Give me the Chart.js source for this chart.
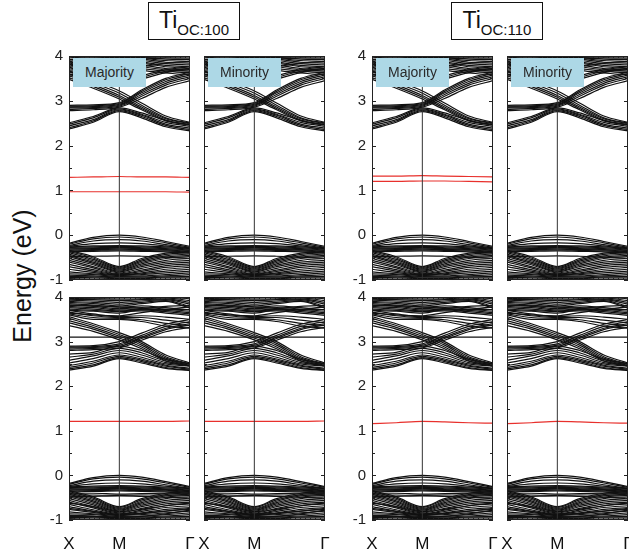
<!DOCTYPE html>
<html>
<head>
<meta charset="utf-8">
<script src="https://cdn.jsdelivr.net/npm/chart.js@4.4.1/dist/chart.umd.min.js"></script>
<style>
  body { margin: 0; background: #fff; width: 629px; height: 552px; position: relative; overflow: hidden;
         font-family: "Liberation Sans", Arial, sans-serif; }
  canvas { position: absolute; }
  .title { position: absolute; top: 2px; width: 92px; height: 38px; border: 1px solid #111; box-sizing: border-box;
           text-align: center; font-size: 23px; line-height: 34px; color: #111; background: #fff; }
  .title span { font-size: 15px; position: relative; top: 7px; }
  .spin { position: absolute; width: 73px; height: 29px; background: #add8e6; color: #2a2a2a; font-size: 14px;
          line-height: 29px; text-align: center; z-index: 2; }
  .ylab { position: absolute; left: 22px; top: 276px; font-size: 25px; color: #111; white-space: nowrap;
          transform: translate(-50%, -50%) rotate(-90deg); }
</style>
</head>
<body>
<div class="title" style="left:148px">Ti<span>OC:100</span></div>
<div class="title" style="left:451px">Ti<span>OC:110</span></div>
<div class="ylab">Energy (eV)</div>
<script>
// k path: X -> M -> Gamma (fraction of panel width)
const kPoints = [0, 0.2, 0.416, 0.6, 0.8, 1];
const symK = [0, 0.416, 1];
const symLabels = ['X', 'M', 'Γ'];
const energyRange = [-1, 4];

// valence bands (both rows), energy at each kPoint
const valenceBands = [
  [-0.18, -0.05, 0.00, -0.04, -0.14, -0.25],
  [-0.20, -0.08, -0.04, -0.08, -0.17, -0.27],
  [-0.23, -0.13, -0.10, -0.13, -0.21, -0.29],
  [-0.25, -0.19, -0.17, -0.19, -0.24, -0.30],
  [-0.26, -0.24, -0.23, -0.24, -0.26, -0.29],
  [-0.27, -0.26, -0.25, -0.26, -0.28, -0.31],
  [-0.29, -0.28, -0.27, -0.28, -0.30, -0.33],
  [-0.31, -0.30, -0.29, -0.30, -0.32, -0.34],
  [-0.33, -0.32, -0.31, -0.32, -0.33, -0.36],
  [-0.35, -0.34, -0.33, -0.34, -0.35, -0.38],
  [-0.37, -0.36, -0.35, -0.36, -0.37, -0.40],
  [-0.34, -0.48, -0.70, -0.52, -0.40, -0.36],
  [-0.36, -0.51, -0.72, -0.55, -0.43, -0.39],
  [-0.39, -0.54, -0.74, -0.58, -0.46, -0.42],
  [-0.42, -0.57, -0.76, -0.61, -0.49, -0.45],
  [-0.45, -0.60, -0.78, -0.64, -0.52, -0.48],
  [-0.48, -0.63, -0.80, -0.67, -0.56, -0.52],
  [-0.52, -0.66, -0.82, -0.70, -0.60, -0.56],
  [-0.56, -0.70, -0.84, -0.74, -0.64, -0.60],
  [-0.60, -0.73, -0.86, -0.78, -0.68, -0.64],
  [-0.65, -0.77, -0.87, -0.81, -0.72, -0.68],
  [-0.70, -0.80, -0.88, -0.84, -0.76, -0.72],
  [-0.76, -0.83, -0.89, -0.86, -0.80, -0.76],
  [-0.82, -0.86, -0.90, -0.88, -0.84, -0.80],
  [-0.86, -0.88, -0.92, -0.91, -0.88, -0.84],
  [-0.89, -0.91, -0.93, -0.93, -0.91, -0.88],
  [-0.92, -0.93, -0.95, -0.95, -0.93, -0.92],
  [-0.94, -0.95, -0.97, -0.97, -0.95, -0.95],
  [-0.97, -0.98, -0.99, -0.99, -0.98, -0.98],
  [-0.48, -0.47, -0.46, -0.47, -0.49, -0.52]
];
const valenceBottomExtra = [
  [-0.40, -0.40, -0.42, -0.41, -0.40, -0.40],
  [-0.44, -0.44, -0.45, -0.44, -0.44, -0.44],
  [-0.62, -0.70, -0.81, -0.76, -0.68, -0.62],
  [-0.74, -0.81, -0.88, -0.85, -0.80, -0.74],
  [-0.90, -0.92, -0.94, -0.92, -0.86, -0.78]
];

// conduction bands, top row
const conductionTop = [
  [2.37, 2.52, 2.76, 2.62, 2.42, 2.33],
  [2.40, 2.55, 2.78, 2.65, 2.45, 2.36],
  [2.44, 2.58, 2.80, 2.68, 2.48, 2.39],
  [2.48, 2.62, 2.82, 2.70, 2.52, 2.43],
  [2.51, 2.65, 2.84, 2.73, 2.56, 2.46],
  [2.78, 2.80, 2.86, 3.05, 3.30, 3.45],
  [2.81, 2.83, 2.88, 3.10, 3.35, 3.50],
  [2.84, 2.85, 2.90, 3.14, 3.39, 3.54],
  [2.86, 2.87, 2.92, 3.18, 3.43, 3.58],
  [2.88, 2.89, 2.94, 3.21, 3.47, 3.61],
  [2.90, 2.91, 2.96, 3.24, 3.50, 3.64],
  [3.48, 3.28, 3.04, 2.80, 2.55, 2.46],
  [3.52, 3.32, 3.08, 2.83, 2.57, 2.47],
  [3.56, 3.36, 3.12, 2.86, 2.60, 2.49],
  [3.60, 3.40, 3.17, 2.90, 2.62, 2.50],
  [3.65, 3.45, 3.22, 2.95, 2.66, 2.52],
  [3.82, 3.58, 3.32, 3.48, 3.63, 3.70],
  [3.86, 3.62, 3.36, 3.52, 3.66, 3.73],
  [3.90, 3.66, 3.42, 3.56, 3.69, 3.76],
  [3.58, 3.64, 3.72, 3.68, 3.62, 3.58],
  [3.62, 3.68, 3.76, 3.72, 3.66, 3.62],
  [3.65, 3.72, 3.80, 3.76, 3.69, 3.66],
  [3.68, 3.76, 3.84, 3.80, 3.72, 3.69],
  [3.71, 3.79, 3.87, 3.84, 3.76, 3.72],
  [3.74, 3.82, 3.90, 3.87, 3.79, 3.76],
  [3.77, 3.85, 3.93, 3.90, 3.83, 3.80],
  [3.80, 3.88, 3.95, 3.93, 3.86, 3.84],
  [3.84, 3.91, 3.97, 3.95, 3.90, 3.88],
  [3.88, 3.94, 3.99, 3.97, 3.93, 3.92],
  [3.92, 3.96, 3.92, 3.93, 3.96, 3.95],
  [3.96, 3.98, 3.96, 3.97, 3.98, 3.98],
  [3.55, 3.60, 3.68, 3.76, 3.84, 3.88]
];

// conduction bands, bottom row
const conductionBottom = [
  [2.36, 2.45, 2.62, 2.52, 2.40, 2.35],
  [2.39, 2.48, 2.64, 2.55, 2.42, 2.36],
  [2.42, 2.52, 2.67, 2.58, 2.45, 2.38],
  [2.46, 2.56, 2.70, 2.61, 2.47, 2.40],
  [2.52, 2.62, 2.75, 2.65, 2.50, 2.45],
  [2.58, 2.68, 2.80, 2.70, 2.53, 2.47],
  [2.65, 2.72, 2.85, 2.75, 2.56, 2.49],
  [2.72, 2.76, 2.90, 2.80, 2.60, 2.51],
  [2.80, 2.82, 2.86, 3.03, 3.22, 3.32],
  [2.83, 2.85, 2.89, 3.07, 3.27, 3.37],
  [2.86, 2.87, 2.92, 3.10, 3.30, 3.40],
  [2.88, 2.89, 2.95, 3.14, 3.34, 3.45],
  [2.90, 2.91, 3.00, 3.19, 3.39, 3.50],
  [3.10, 3.10, 3.10, 3.10, 3.10, 3.10],
  [3.36, 3.23, 3.04, 2.84, 2.57, 2.45],
  [3.42, 3.28, 3.08, 2.88, 2.60, 2.47],
  [3.47, 3.32, 3.12, 2.92, 2.63, 2.49],
  [3.52, 3.36, 3.16, 2.96, 2.66, 2.50],
  [3.56, 3.40, 3.20, 3.00, 2.70, 2.52],
  [3.60, 3.50, 3.50, 3.45, 3.35, 3.30],
  [3.62, 3.54, 3.52, 3.49, 3.41, 3.36],
  [3.66, 3.58, 3.54, 3.54, 3.48, 3.42],
  [3.70, 3.62, 3.56, 3.58, 3.55, 3.50],
  [3.73, 3.70, 3.67, 3.69, 3.64, 3.59],
  [3.76, 3.73, 3.69, 3.71, 3.67, 3.62],
  [3.79, 3.76, 3.71, 3.73, 3.70, 3.65],
  [3.82, 3.79, 3.74, 3.76, 3.73, 3.68],
  [3.85, 3.82, 3.77, 3.80, 3.76, 3.71],
  [3.88, 3.85, 3.80, 3.85, 3.90, 3.75],
  [3.90, 3.88, 3.84, 3.88, 3.92, 3.79],
  [3.93, 3.91, 3.88, 3.91, 3.94, 3.84],
  [3.95, 3.94, 3.92, 3.94, 3.96, 3.88],
  [3.97, 3.96, 3.95, 3.96, 3.98, 3.92],
  [3.99, 3.98, 3.98, 3.99, 3.99, 3.96],
  [3.64, 3.60, 3.58, 3.65, 3.72, 3.78],
  [3.70, 3.68, 3.64, 3.73, 3.79, 3.81],
  [3.82, 3.80, 3.78, 3.74, 3.72, 3.72]
];

// defect (red) states
const defect100Maj = [
  [1.29, 1.30, 1.31, 1.30, 1.30, 1.29],
  [0.97, 0.97, 0.97, 0.97, 0.97, 0.96]
];
const defect110Maj = [
  [1.32, 1.32, 1.33, 1.32, 1.31, 1.30],
  [1.20, 1.20, 1.21, 1.21, 1.20, 1.19]
];
const defect100Bottom = [[1.21, 1.21, 1.21, 1.21, 1.21, 1.22]];
const defect110Bottom = [[1.16, 1.18, 1.21, 1.20, 1.18, 1.17]];

const M = 40; // canvas margin around each plot box
const W = 121;
const panels = [
  { left: 69,  top: 56,  h: 224, yAxis: true,  xAxis: false, cond: conductionTop, extra: [], red: defect100Maj, tag: 'Majority' },
  { left: 204, top: 56,  h: 224, yAxis: false, xAxis: false, cond: conductionTop, extra: [], red: [], tag: 'Minority' },
  { left: 372, top: 56,  h: 224, yAxis: true,  xAxis: false, cond: conductionTop, extra: [], red: defect110Maj, tag: 'Majority' },
  { left: 507, top: 56,  h: 224, yAxis: false, xAxis: false, cond: conductionTop, extra: [], red: [], tag: 'Minority' },
  { left: 69,  top: 297, h: 223, yAxis: true,  xAxis: true, cond: conductionBottom, extra: valenceBottomExtra, red: defect100Bottom },
  { left: 204, top: 297, h: 223, yAxis: false, xAxis: true, cond: conductionBottom, extra: valenceBottomExtra, red: defect100Bottom },
  { left: 372, top: 297, h: 223, yAxis: true,  xAxis: true, cond: conductionBottom, extra: valenceBottomExtra, red: defect110Bottom },
  { left: 507, top: 297, h: 223, yAxis: false, xAxis: true, cond: conductionBottom, extra: valenceBottomExtra, red: defect110Bottom }
];

const framePlugin = {
  id: 'frame',
  afterDraw(chart) {
    const { ctx, chartArea: a, scales } = chart;
    const y = scales.y, x = scales.x;
    ctx.save();
    ctx.strokeStyle = '#222';
    ctx.lineWidth = 1;
    ctx.strokeRect(a.left + 0.5, a.top + 0.5, a.width - 1, a.height - 1);
    ctx.beginPath();
    for (let v = energyRange[0]; v <= energyRange[1]; v += 0.5) {
      const py = Math.round(y.getPixelForValue(v)) + 0.5;
      const len = Number.isInteger(v) ? 4 : 3;
      ctx.moveTo(a.left, py); ctx.lineTo(a.left + len, py);
      ctx.moveTo(a.right - len, py); ctx.lineTo(a.right, py);
    }
    for (let i = 1; i < 24; i++) {
      const px = Math.round(x.getPixelForValue(i / 24)) + 0.5;
      ctx.moveTo(px, a.top); ctx.lineTo(px, a.top + 2);
      ctx.moveTo(px, a.bottom); ctx.lineTo(px, a.bottom - 2);
    }
    ctx.stroke();
    ctx.restore();
  }
};

function bandSet(bands, color, width) {
  return bands.map(b => ({
    data: b.map((e, i) => ({ x: kPoints[i], y: e })),
    borderColor: color, borderWidth: width, pointRadius: 0, fill: false,
    cubicInterpolationMode: 'monotone'
  }));
}

const fontFam = '"Liberation Sans", Arial, sans-serif';

panels.forEach(p => {
  const cv = document.createElement('canvas');
  cv.width = W + 2 * M;
  cv.height = p.h + 2 * M;
  cv.style.left = (p.left - M) + 'px';
  cv.style.top = (p.top - M) + 'px';
  document.body.appendChild(cv);

  const yW = 28, xH = 34;
  const datasets = [
    { data: energyRange.map(e => ({ x: symK[1], y: e })), borderColor: '#333', borderWidth: 1, pointRadius: 0 },
    ...bandSet(valenceBands, '#111', 1.2),
    ...bandSet(p.extra, '#111', 1.2),
    ...bandSet(p.cond, '#111', 1.2),
    ...bandSet(p.red, '#e8302c', 1.2)
  ];

  new Chart(cv, {
    type: 'line',
    data: { datasets },
    plugins: [framePlugin],
    options: {
      responsive: false,
      animation: false,
      devicePixelRatio: 1,
      events: [],
      layout: { padding: { left: p.yAxis ? M - yW : M, right: M, top: M, bottom: p.xAxis ? M - xH : M } },
      plugins: { legend: { display: false }, tooltip: { enabled: false } },
      scales: {
        x: {
          type: 'linear', min: 0, max: 1, display: p.xAxis,
          grid: { display: false, drawTicks: false }, border: { display: false },
          afterBuildTicks: s => { s.ticks = symK.map(v => ({ value: v })); },
          afterFit: s => { s.height = p.xAxis ? xH : 0; },
          ticks: {
            autoSkip: false, maxRotation: 0, padding: 14, color: '#111',
            font: { family: fontFam, size: 17 },
            callback: v => symLabels[symK.indexOf(v)]
          }
        },
        y: {
          type: 'linear', min: energyRange[0], max: energyRange[1], display: p.yAxis,
          grid: { display: false, drawTicks: false }, border: { display: false },
          afterFit: s => { s.width = p.yAxis ? yW : 0; },
          ticks: { stepSize: 1, padding: 6, color: '#222', font: { family: fontFam, size: 15 } }
        }
      }
    }
  });

  if (p.tag) {
    const d = document.createElement('div');
    d.className = 'spin';
    d.textContent = p.tag;
    d.style.left = (p.left + 4) + 'px';
    d.style.top = (p.top + 2) + 'px';
    document.body.appendChild(d);
  }
});
</script>
</body>
</html>
